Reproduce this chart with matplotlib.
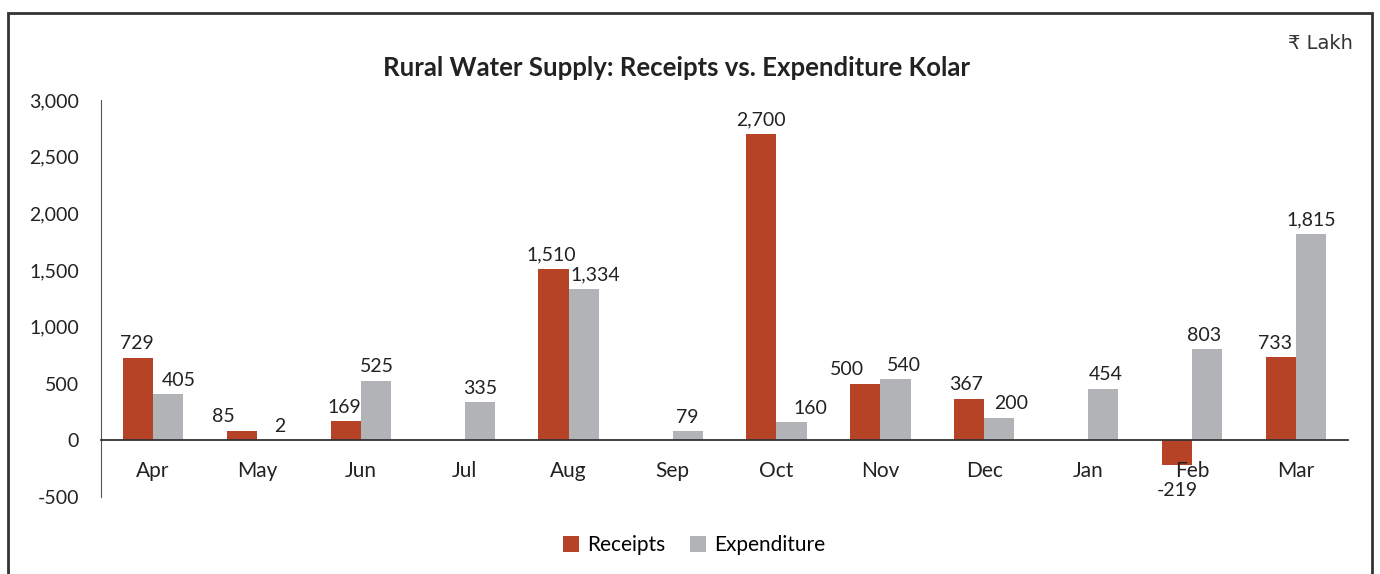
import matplotlib.pyplot as plt
import numpy as np
from matplotlib.patches import Rectangle

plt.rcParams['font.family'] = ['Lato', 'DejaVu Sans']

months = ['Apr', 'May', 'Jun', 'Jul', 'Aug', 'Sep', 'Oct', 'Nov', 'Dec', 'Jan', 'Feb', 'Mar']
receipts = [729, 85, 169, None, 1510, None, 2700, 500, 367, None, -219, 733]
expenditure = [405, 2, 525, 335, 1334, 79, 160, 540, 200, 454, 803, 1815]
yticks = [-500, 0, 500, 1000, 1500, 2000, 2500, 3000]

red = '#B64326'
grey = '#B2B3B6'

# horizontal nudges of the data labels (pixels), to keep them apart like the original
rec_nudge = [-1, -18, -1, 0, -2, 0, 0, -18, -3, 0, 0, -6]
exp_nudge = [11, 8, 1, 0, 12, 0, 19, 8, 12, 2, -3, 0]

rec = np.array([np.nan if v is None else v for v in receipts], dtype=float)
exp = np.array(expenditure, dtype=float)
x = np.arange(len(months))
w = 0.29

fig = plt.figure(figsize=(13.8, 5.74), dpi=100)
ax = fig.add_axes([0.0732, 0.134, 0.9036, 0.692])

b1 = ax.bar(x - w / 2, rec, w, color=red, label='Receipts')
b2 = ax.bar(x + w / 2, exp, w, color=grey, label='Expenditure')

# data labels
for xi, v, dx in zip(x - w / 2, rec, rec_nudge):
    if np.isnan(v):
        continue
    if v >= 0:
        ax.annotate(f'{v:,.0f}', (xi, v), xytext=(dx * 0.72, 4), textcoords='offset points',
                    ha='center', va='bottom', fontsize=14, color='#222222')
    else:
        ax.annotate(f'{v:,.0f}', (xi, 0), xytext=(dx * 0.72, -36), textcoords='offset points',
                    ha='center', va='center', fontsize=14, color='#222222')
for xi, v, dx in zip(x + w / 2, exp, exp_nudge):
    ax.annotate(f'{v:,.0f}', (xi, v), xytext=(dx * 0.72, 4), textcoords='offset points',
                ha='center', va='bottom', fontsize=14, color='#222222')

ax.set_xlim(-0.5, len(months) - 0.5)
ax.set_ylim(-500, 3000)
ax.set_yticks(yticks)
ax.set_yticklabels([f'{t:,}' for t in yticks])
ax.set_xticks(x)
ax.set_xticklabels(months)

ax.spines['top'].set_visible(False)
ax.spines['right'].set_visible(False)
ax.spines['bottom'].set_position(('data', 0))
ax.spines['bottom'].set_color('#333333')
ax.spines['left'].set_color('#555555')
ax.spines['bottom'].set_linewidth(1.3)
ax.tick_params(axis='x', length=0, pad=15, labelsize=15, colors='#222222')
ax.tick_params(axis='y', length=0, pad=16, labelsize=14, colors='#222222')

fig.text(0.49, 0.8815, 'Rural Water Supply: Receipts vs. Expenditure Kolar',
         ha='center', va='center', fontsize=18.5, fontweight='bold', color='#222222')
fig.text(0.98, 0.925, '₹ Lakh', ha='right', va='center', fontsize=14,
         color='#333333', family=['DejaVu Sans'])

fig.legend(handles=[b1, b2], loc='center', bbox_to_anchor=(0.503, 0.05), ncol=2,
           frameon=False, fontsize=15, handlelength=0.75, handleheight=0.75,
           handletextpad=0.4, columnspacing=1.2)

# outer frame
fig.patches.append(Rectangle((8 / 1380, -0.1), 1364 / 1380, 0.977 + 0.1,
                             transform=fig.transFigure, fill=False,
                             edgecolor='#333333', linewidth=2, clip_on=False))

fig.savefig('out.png', dpi=100)
